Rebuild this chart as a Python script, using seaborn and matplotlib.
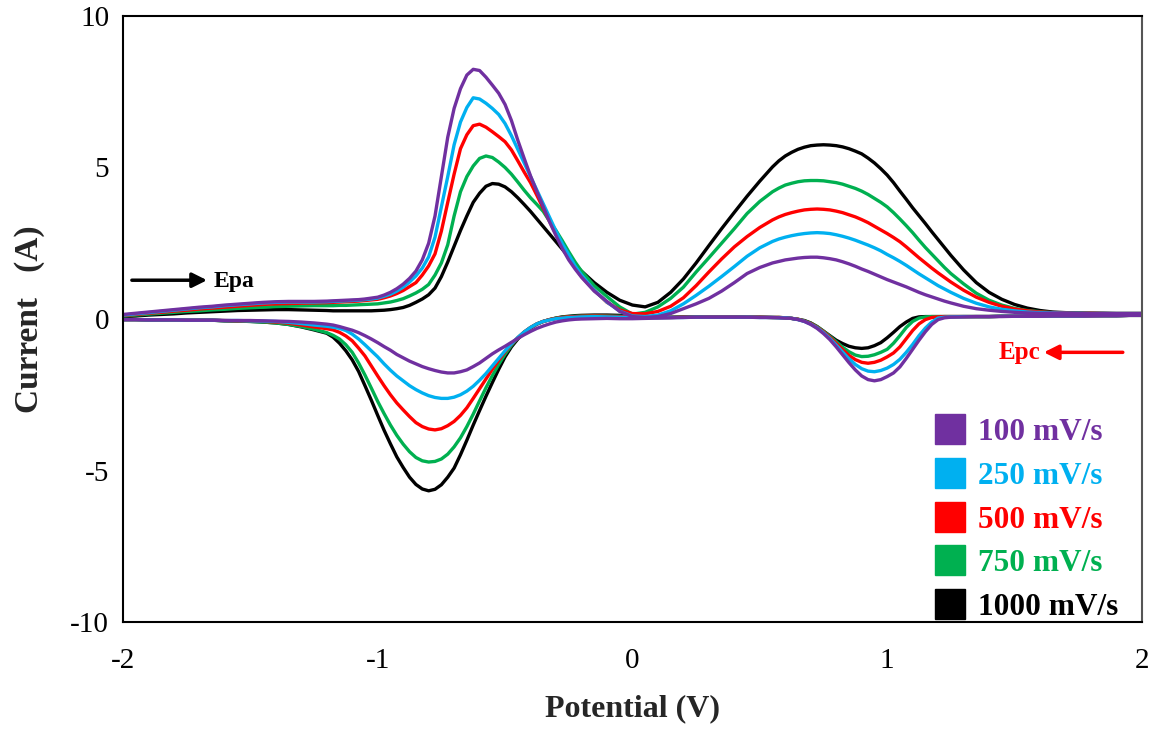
import matplotlib
matplotlib.use("Agg")
import matplotlib.pyplot as plt
from matplotlib.lines import Line2D
import pandas as pd
import seaborn as sns

# Sampled potentials (V) shared by every branch; denser around the peaks
POTENTIAL = [
    -2.00, -1.95, -1.90, -1.85, -1.80, -1.75, -1.70, -1.65, -1.60, -1.55,
    -1.50, -1.45, -1.40, -1.35, -1.30, -1.25,
    -1.200, -1.175, -1.150, -1.125, -1.100, -1.075, -1.050, -1.025, -1.000, -0.975,
    -0.950, -0.925, -0.900, -0.875, -0.850, -0.825, -0.800, -0.775, -0.750, -0.725,
    -0.700, -0.675, -0.650, -0.625, -0.600, -0.575, -0.550, -0.525, -0.500, -0.475,
    -0.450, -0.425, -0.400, -0.375, -0.350, -0.325, -0.300, -0.275, -0.250, -0.225,
    -0.200,
    -0.15, -0.10, -0.05, 0.00, 0.05, 0.10, 0.15, 0.20, 0.25, 0.30,
    0.35, 0.40, 0.45, 0.50,
    0.550, 0.575, 0.600, 0.625, 0.650, 0.675, 0.700, 0.725, 0.750, 0.775,
    0.800, 0.825, 0.850, 0.875, 0.900, 0.925, 0.950, 0.975, 1.000, 1.025,
    1.050, 1.075, 1.100, 1.125, 1.150, 1.175, 1.200, 1.225, 1.250,
    1.30, 1.35, 1.40, 1.45, 1.50, 1.55, 1.60, 1.65, 1.70, 1.75,
    1.80, 1.85, 1.90, 1.95, 2.00,
]

SCAN_RATES = ["100 mV/s", "250 mV/s", "500 mV/s", "750 mV/s", "1000 mV/s"]
COLORS = ["#7030A0", "#00B0F0", "#FF0000", "#00B050", "#000000"]

# Forward (anodic) sweep, -2 V -> +2 V, current in A
ANODIC_100 = [
    0.15, 0.19, 0.23, 0.27, 0.31, 0.35, 0.39, 0.42, 0.46, 0.49,
    0.52, 0.55, 0.57, 0.58, 0.58, 0.58,
    0.59, 0.60, 0.61, 0.62, 0.63, 0.64, 0.66, 0.69, 0.72, 0.79,
    0.88, 1.00, 1.15, 1.34, 1.58, 1.95, 2.50, 3.40, 4.70, 6.00,
    6.95, 7.60, 8.05, 8.24, 8.20, 7.98, 7.72, 7.45, 7.08, 6.55,
    5.90, 5.30, 4.72, 4.20, 3.70, 3.20, 2.75, 2.32, 1.95, 1.65,
    1.38,
    0.92, 0.58, 0.25, 0.08, 0.05, 0.08, 0.18, 0.34, 0.50, 0.68,
    0.92, 1.20, 1.50, 1.70,
    1.85, 1.90, 1.95, 1.98, 2.01, 2.03, 2.04, 2.04, 2.02, 1.99,
    1.95, 1.89, 1.82, 1.74, 1.65, 1.57, 1.48, 1.39, 1.30, 1.22,
    1.14, 1.06, 0.97, 0.88, 0.80, 0.73, 0.66, 0.59, 0.53,
    0.42, 0.34, 0.29, 0.25, 0.22, 0.20, 0.19, 0.19, 0.19, 0.18,
    0.18, 0.18, 0.18, 0.18, 0.18,
]
ANODIC_250 = [
    0.13, 0.17, 0.21, 0.25, 0.29, 0.33, 0.37, 0.40, 0.44, 0.47,
    0.50, 0.53, 0.55, 0.56, 0.56, 0.56,
    0.57, 0.58, 0.59, 0.60, 0.61, 0.62, 0.64, 0.66, 0.69, 0.75,
    0.82, 0.92, 1.05, 1.22, 1.42, 1.68, 2.05, 2.70, 3.70, 4.70,
    5.75, 6.50, 6.98, 7.30, 7.26, 7.12, 6.95, 6.75, 6.45, 6.05,
    5.60, 5.15, 4.70, 4.25, 3.80, 3.35, 2.90, 2.48, 2.12, 1.75,
    1.45,
    0.95, 0.56, 0.26, 0.10, 0.08, 0.13, 0.27, 0.50, 0.78, 1.08,
    1.40, 1.73, 2.07, 2.35,
    2.56, 2.64, 2.70, 2.75, 2.79, 2.82, 2.84, 2.85, 2.84, 2.82,
    2.78, 2.73, 2.67, 2.60, 2.52, 2.44, 2.35, 2.25, 2.13, 2.02,
    1.90, 1.77, 1.63, 1.49, 1.36, 1.23, 1.10, 0.99, 0.88,
    0.68, 0.52, 0.40, 0.32, 0.27, 0.23, 0.21, 0.20, 0.19, 0.19,
    0.18, 0.18, 0.18, 0.18, 0.18,
]
ANODIC_500 = [
    0.12, 0.15, 0.19, 0.22, 0.26, 0.29, 0.33, 0.36, 0.39, 0.42,
    0.45, 0.48, 0.50, 0.51, 0.52, 0.53,
    0.54, 0.55, 0.56, 0.57, 0.58, 0.59, 0.61, 0.63, 0.65, 0.70,
    0.76, 0.84, 0.94, 1.07, 1.20, 1.45, 1.75, 2.15, 2.90, 3.85,
    4.78, 5.62, 6.08, 6.38, 6.43, 6.33, 6.18, 6.02, 5.85, 5.58,
    5.22, 4.85, 4.50, 4.08, 3.65, 3.22, 2.80, 2.40, 2.05, 1.70,
    1.40,
    0.95, 0.55, 0.30, 0.18, 0.17, 0.25, 0.42, 0.70, 1.10, 1.55,
    1.98, 2.38, 2.72, 3.02,
    3.27, 3.37, 3.45, 3.51, 3.56, 3.60, 3.62, 3.63, 3.62, 3.60,
    3.56, 3.51, 3.44, 3.37, 3.28, 3.18, 3.06, 2.94, 2.82, 2.69,
    2.55, 2.38, 2.20, 2.02, 1.85, 1.68, 1.52, 1.37, 1.22,
    0.95, 0.72, 0.55, 0.42, 0.33, 0.27, 0.23, 0.21, 0.20, 0.19,
    0.19, 0.18, 0.18, 0.18, 0.18,
]
ANODIC_750 = [
    0.10, 0.13, 0.16, 0.19, 0.22, 0.25, 0.27, 0.30, 0.32, 0.35,
    0.37, 0.39, 0.41, 0.42, 0.43, 0.44,
    0.44, 0.44, 0.45, 0.45, 0.46, 0.47, 0.48, 0.49, 0.50, 0.53,
    0.56, 0.61, 0.67, 0.76, 0.86, 0.98, 1.14, 1.45, 1.85, 2.45,
    3.40, 4.20, 4.70, 5.05, 5.30, 5.38, 5.33, 5.18, 5.00, 4.78,
    4.52, 4.25, 4.00, 3.78, 3.55, 3.22, 2.92, 2.58, 2.22, 1.88,
    1.58,
    1.10, 0.74, 0.40, 0.16, 0.22, 0.40, 0.68, 1.05, 1.55, 2.02,
    2.50, 2.98, 3.48, 3.88,
    4.20, 4.32, 4.42, 4.48, 4.53, 4.56, 4.57, 4.57, 4.56, 4.53,
    4.50, 4.45, 4.38, 4.31, 4.22, 4.11, 3.98, 3.85, 3.70, 3.51,
    3.30, 3.08, 2.85, 2.60, 2.36, 2.14, 1.92, 1.70, 1.50,
    1.16, 0.85, 0.62, 0.46, 0.35, 0.28, 0.24, 0.21, 0.20, 0.19,
    0.19, 0.18, 0.18, 0.18, 0.18,
]
ANODIC_1000 = [
    0.08, 0.10, 0.13, 0.15, 0.17, 0.20, 0.22, 0.24, 0.26, 0.28,
    0.29, 0.30, 0.31, 0.31, 0.30, 0.29,
    0.28, 0.27, 0.27, 0.27, 0.27, 0.27, 0.27, 0.27, 0.28, 0.29,
    0.31, 0.34, 0.38, 0.45, 0.55, 0.66, 0.80, 1.02, 1.40, 1.88,
    2.40, 2.92, 3.40, 3.85, 4.15, 4.38, 4.47, 4.45, 4.36, 4.20,
    4.00, 3.78, 3.55, 3.30, 3.05, 2.80, 2.55, 2.30, 2.05, 1.80,
    1.58,
    1.20, 0.88, 0.62, 0.46, 0.40, 0.55, 0.88, 1.32, 1.85, 2.42,
    2.98, 3.52, 4.05, 4.55,
    5.02, 5.22, 5.38, 5.50, 5.60, 5.67, 5.72, 5.74, 5.75, 5.74,
    5.72, 5.68, 5.62, 5.54, 5.45, 5.31, 5.15, 4.96, 4.75, 4.50,
    4.22, 3.95, 3.67, 3.41, 3.15, 2.88, 2.62, 2.36, 2.10,
    1.62, 1.20, 0.88, 0.65, 0.48, 0.36, 0.28, 0.23, 0.21, 0.20,
    0.19, 0.19, 0.18, 0.18, 0.18,
]

# Reverse (cathodic) sweep, listed at the same potentials (-2 V -> +2 V)
CATHODIC_100 = [
    -0.02, -0.02, -0.03, -0.03, -0.03, -0.04, -0.04, -0.04, -0.05, -0.05,
    -0.05, -0.06, -0.07, -0.08, -0.10, -0.13,
    -0.17, -0.20, -0.25, -0.31, -0.37, -0.45, -0.55, -0.66, -0.78, -0.91,
    -1.03, -1.17, -1.28, -1.39, -1.48, -1.57, -1.64, -1.70, -1.75, -1.78,
    -1.78, -1.74, -1.68, -1.57, -1.45, -1.30, -1.15, -1.02, -0.90, -0.77,
    -0.64, -0.52, -0.41, -0.31, -0.23, -0.16, -0.10, -0.06, -0.03, -0.01,
    0.00,
    0.01, 0.02, 0.01, 0.01, 0.02, 0.03, 0.04, 0.05, 0.06, 0.06,
    0.06, 0.06, 0.06, 0.05,
    0.05, 0.04, 0.03, 0.02, -0.02, -0.08, -0.18, -0.31, -0.48, -0.68,
    -0.92, -1.18, -1.44, -1.68, -1.88, -2.00, -2.04, -2.00, -1.90, -1.78,
    -1.58, -1.30, -1.00, -0.70, -0.42, -0.18, -0.02, 0.04, 0.06,
    0.07, 0.08, 0.08, 0.08, 0.09, 0.09, 0.09, 0.10, 0.10, 0.10,
    0.10, 0.11, 0.11, 0.12, 0.12,
]
CATHODIC_250 = [
    -0.02, -0.02, -0.03, -0.03, -0.03, -0.04, -0.04, -0.04, -0.05, -0.05,
    -0.06, -0.07, -0.08, -0.11, -0.15, -0.20,
    -0.24, -0.27, -0.31, -0.38, -0.50, -0.66, -0.85, -1.05, -1.25, -1.48,
    -1.69, -1.88, -2.04, -2.20, -2.33, -2.44, -2.53, -2.59, -2.62, -2.62,
    -2.58, -2.50, -2.38, -2.22, -2.02, -1.80, -1.55, -1.30, -1.05, -0.82,
    -0.61, -0.43, -0.28, -0.16, -0.08, -0.03, 0.01, 0.03, 0.05, 0.06,
    0.07,
    0.08, 0.07, 0.06, 0.05, 0.04, 0.04, 0.05, 0.05, 0.06, 0.06,
    0.06, 0.06, 0.06, 0.05,
    0.05, 0.04, 0.04, 0.02, -0.02, -0.08, -0.17, -0.29, -0.45, -0.64,
    -0.86, -1.09, -1.31, -1.50, -1.64, -1.72, -1.74, -1.70, -1.62, -1.50,
    -1.33, -1.10, -0.84, -0.55, -0.30, -0.10, 0.03, 0.06, 0.07,
    0.08, 0.08, 0.08, 0.09, 0.09, 0.09, 0.10, 0.10, 0.10, 0.10,
    0.11, 0.11, 0.11, 0.12, 0.12,
]
CATHODIC_500 = [
    -0.02, -0.02, -0.03, -0.03, -0.03, -0.04, -0.04, -0.04, -0.05, -0.06,
    -0.06, -0.08, -0.10, -0.14, -0.20, -0.26,
    -0.32, -0.36, -0.44, -0.56, -0.72, -0.96, -1.22, -1.55, -1.88, -2.20,
    -2.50, -2.77, -3.00, -3.22, -3.42, -3.55, -3.63, -3.66, -3.62, -3.52,
    -3.38, -3.18, -2.93, -2.62, -2.30, -1.98, -1.66, -1.36, -1.08, -0.83,
    -0.62, -0.43, -0.28, -0.16, -0.08, -0.02, 0.02, 0.05, 0.07, 0.08,
    0.09,
    0.10, 0.09, 0.08, 0.07, 0.05, 0.05, 0.05, 0.06, 0.06, 0.07,
    0.07, 0.07, 0.06, 0.06,
    0.05, 0.05, 0.04, 0.02, -0.01, -0.07, -0.15, -0.27, -0.42, -0.60,
    -0.80, -1.01, -1.20, -1.34, -1.43, -1.46, -1.43, -1.36, -1.25, -1.12,
    -0.92, -0.65, -0.38, -0.16, -0.02, 0.05, 0.07, 0.08, 0.08,
    0.08, 0.08, 0.08, 0.09, 0.09, 0.09, 0.10, 0.10, 0.10, 0.10,
    0.11, 0.11, 0.11, 0.12, 0.12,
]
CATHODIC_750 = [
    -0.02, -0.02, -0.03, -0.03, -0.03, -0.04, -0.04, -0.04, -0.06, -0.07,
    -0.08, -0.10, -0.13, -0.18, -0.25, -0.34,
    -0.45, -0.54, -0.66, -0.85, -1.10, -1.45, -1.85, -2.28, -2.72, -3.12,
    -3.50, -3.84, -4.13, -4.38, -4.57, -4.68, -4.72, -4.70, -4.62, -4.46,
    -4.22, -3.92, -3.55, -3.14, -2.70, -2.27, -1.87, -1.50, -1.16, -0.87,
    -0.62, -0.43, -0.28, -0.16, -0.08, -0.02, 0.03, 0.06, 0.08, 0.09,
    0.10,
    0.11, 0.10, 0.09, 0.08, 0.06, 0.05, 0.05, 0.06, 0.07, 0.07,
    0.07, 0.07, 0.06, 0.06,
    0.05, 0.05, 0.04, 0.02, -0.01, -0.06, -0.14, -0.25, -0.40, -0.57,
    -0.75, -0.93, -1.08, -1.19, -1.24, -1.23, -1.18, -1.10, -1.00, -0.80,
    -0.55, -0.28, -0.08, 0.03, 0.07, 0.08, 0.08, 0.08, 0.08,
    0.08, 0.08, 0.08, 0.09, 0.09, 0.09, 0.10, 0.10, 0.10, 0.10,
    0.11, 0.11, 0.11, 0.12, 0.12,
]
CATHODIC_1000 = [
    -0.02, -0.02, -0.03, -0.03, -0.03, -0.04, -0.04, -0.04, -0.06, -0.07,
    -0.08, -0.10, -0.13, -0.18, -0.26, -0.36,
    -0.47, -0.60, -0.80, -1.05, -1.35, -1.73, -2.20, -2.68, -3.18, -3.67,
    -4.12, -4.55, -4.90, -5.22, -5.46, -5.61, -5.67, -5.62, -5.47, -5.22,
    -4.92, -4.48, -4.00, -3.50, -3.02, -2.55, -2.10, -1.66, -1.25, -0.92,
    -0.66, -0.45, -0.30, -0.17, -0.08, -0.02, 0.03, 0.07, 0.09, 0.11,
    0.12,
    0.13, 0.13, 0.12, 0.10, 0.08, 0.06, 0.06, 0.07, 0.07, 0.07,
    0.07, 0.07, 0.06, 0.06,
    0.05, 0.05, 0.04, 0.02, -0.01, -0.05, -0.13, -0.25, -0.40, -0.55,
    -0.70, -0.81, -0.90, -0.95, -0.97, -0.95, -0.88, -0.78, -0.62, -0.44,
    -0.25, -0.10, 0.02, 0.07, 0.08, 0.08, 0.08, 0.08, 0.08,
    0.08, 0.08, 0.08, 0.09, 0.09, 0.09, 0.10, 0.10, 0.10, 0.10,
    0.11, 0.11, 0.11, 0.12, 0.12,
]

ANODIC = [ANODIC_100, ANODIC_250, ANODIC_500, ANODIC_750, ANODIC_1000]
CATHODIC = [CATHODIC_100, CATHODIC_250, CATHODIC_500, CATHODIC_750, CATHODIC_1000]

# One closed voltammogram per scan rate: forward sweep, then the reverse sweep
rows = []
for rate, fwd, rev in zip(SCAN_RATES, ANODIC, CATHODIC):
    for e, i in zip(POTENTIAL, fwd):
        rows.append((rate, e, i))
    for e, i in zip(POTENTIAL[::-1], rev[::-1]):
        rows.append((rate, e, i))
df = pd.DataFrame(rows, columns=["Scan rate", "Potential", "Current"])

sns.set_style("white")
plt.rcParams["font.family"] = ["Liberation Serif", "DejaVu Serif"]
plt.rcParams["axes.unicode_minus"] = False
plt.rcParams["lines.solid_joinstyle"] = "round"
plt.rcParams["lines.solid_capstyle"] = "round"

fig = plt.figure(figsize=(11.6, 7.33), dpi=100)
ax = fig.add_axes([0.106, 0.1514, 0.8784, 0.8268])

palette = dict(zip(SCAN_RATES, COLORS))
sns.lineplot(
    data=df, x="Potential", y="Current", hue="Scan rate",
    hue_order=SCAN_RATES[::-1], palette=palette,
    sort=False, estimator=None, linewidth=2.4, legend=False, ax=ax,
)

ax.set_xlim(-2, 2)
ax.set_ylim(-10, 10)
ax.set_xticks([-2, -1, 0, 1, 2])
ax.set_yticks([-10, -5, 0, 5, 10])
ax.tick_params(axis="both", direction="out", length=7, width=1.4,
               labelsize=21, colors="black")
ax.tick_params(axis="x", pad=12)
ax.tick_params(axis="y", pad=3)
for side in ["left", "bottom", "top", "right"]:
    ax.spines[side].set_visible(True)
    ax.spines[side].set_color("black")
    ax.spines[side].set_linewidth(1.5)
ax.spines["right"].set_color("#555555")

ax.set_xlabel("Potential (V)", fontsize=23, fontweight="bold", labelpad=14)
ax.set_ylabel("Current   (A)", fontsize=24, fontweight="bold", labelpad=18)

# Sweep direction markers
ax.annotate("", xy=(-1.67, 1.28), xytext=(-1.965, 1.28),
            arrowprops=dict(arrowstyle="-|>", color="black", lw=2.5,
                            mutation_scale=22, shrinkA=0, shrinkB=0))
ax.text(-1.645, 1.25, "Epa", fontsize=17, fontweight="bold", color="black",
        ha="left", va="center")
ax.annotate("", xy=(1.615, -1.1), xytext=(1.925, -1.1),
            arrowprops=dict(arrowstyle="-|>", color="red", lw=2.5,
                            mutation_scale=22, shrinkA=0, shrinkB=0))
ax.text(1.60, -1.12, "Epc", fontsize=18, fontweight="bold", color="red",
        ha="right", va="center")

handles = [Line2D([], [], marker="s", linestyle="", markersize=21,
                  markerfacecolor=c, markeredgecolor=c) for c in COLORS]
leg = ax.legend(handles, SCAN_RATES, loc="lower right",
                bbox_to_anchor=(0.980, -0.005), frameon=False,
                prop={"size": 22.5, "weight": "bold"},
                handlelength=1.0, handletextpad=0.4, labelspacing=0.47,
                borderpad=0.1, borderaxespad=0.0)
for txt, c in zip(leg.get_texts(), COLORS):
    txt.set_color(c)

fig.savefig("out.png", dpi=100, facecolor="white")
